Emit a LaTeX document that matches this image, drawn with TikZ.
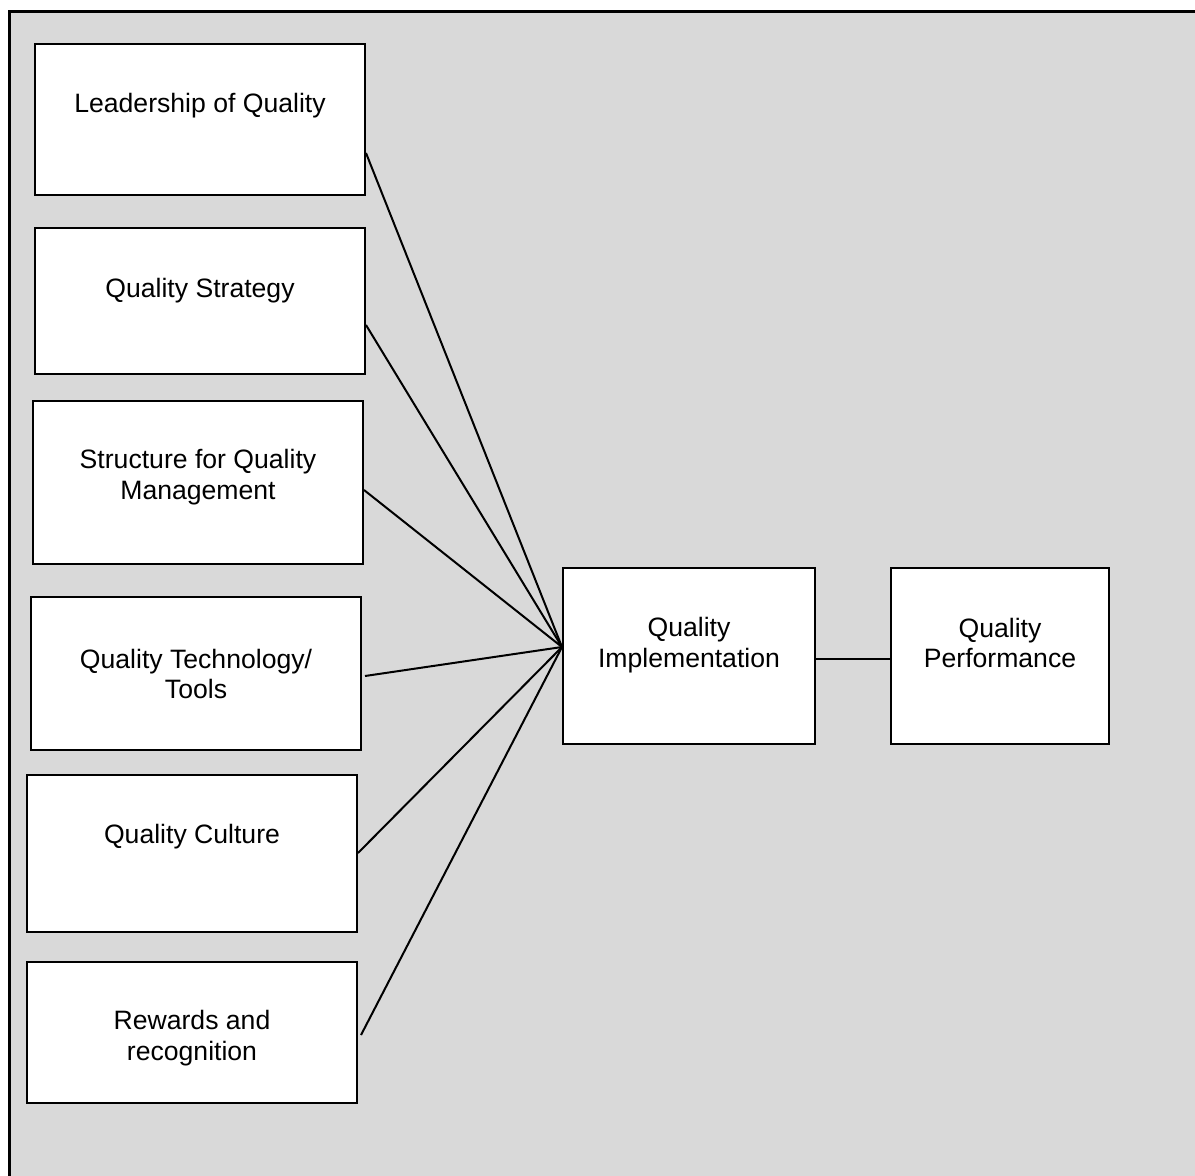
\documentclass[tikz,border=0pt]{standalone}
\usepackage{fontspec}
\setmainfont{Liberation Sans}
\usetikzlibrary{calc}
\definecolor{bggray}{HTML}{D9D9D9}
\begin{document}
\begin{tikzpicture}[x=1pt,y=-1pt,
  boxnode/.style={draw=black, line width=2pt, fill=white, rectangle, inner sep=0pt, anchor=north west},
  lbl/.style={font=\fontsize{26.6}{30.5}\selectfont, align=center, inner sep=0pt, anchor=center},
  conn/.style={draw=black, line width=2pt}]
\useasboundingbox (0,0) rectangle (1195,1176);
\clip (0,0) rectangle (1195,1176);
\fill[white] (0,0) rectangle (1195,1176);
\draw[line width=3pt, fill=bggray] (9,11) rectangle (1200,1185);
% boxes
\node[boxnode, minimum width=330pt, minimum height=151pt] (lead) at (34,43) {};
\node[boxnode, minimum width=330pt, minimum height=146pt] (strat) at (34,227) {};
\node[boxnode, minimum width=330pt, minimum height=163pt] (struct) at (32,400) {};
\node[boxnode, minimum width=330pt, minimum height=153pt] (tech) at (30,596) {};
\node[boxnode, minimum width=330pt, minimum height=157pt] (cult) at (26,774) {};
\node[boxnode, minimum width=330pt, minimum height=141pt] (rew) at (26,961) {};
\node[boxnode, minimum width=252pt, minimum height=176pt] (imp) at (562,567) {};
\node[boxnode, minimum width=218pt, minimum height=176pt] (perf) at (890,567) {};
% labels
\node[lbl] (leadT) at ($(lead.north)+(0,63)$) {Leadership of Quality};
\node[lbl] (stratT) at ($(strat.north)+(0,64)$) {Quality Strategy};
\node[lbl] (structT) at ($(struct.north)+(0,77)$) {Structure for Quality\\Management};
\node[lbl] (techT) at ($(tech.north)+(0,78)$) {Quality Technology/\\Tools};
\node[lbl] (cultT) at ($(cult.north)+(0,63)$) {Quality Culture};
\node[lbl] (rewT) at ($(rew.north)+(0,77)$) {Rewards and\\recognition};
\node[lbl] (impT) at ($(imp.north)+(0,78)$) {Quality\\Implementation};
\node[lbl] (perfT) at ($(perf.north)+(0,76)$) {Quality\\Performance};
% connectors
\coordinate (hub) at ($(imp.north west)+(0,80)$);
\draw[conn] ($(lead.north east)+(0,110)$) -- (hub);
\draw[conn] ($(strat.north east)+(0,98)$) -- (hub);
\draw[conn] ($(struct.north east)+(0,90)$) -- (hub);
\draw[conn] ($(tech.north east)+(3,80)$) -- (hub);
\draw[conn] ($(cult.north east)+(0,79)$) -- (hub);
\draw[conn] ($(rew.north east)+(3,74)$) -- (hub);
\draw[conn] ($(imp.north east)+(0,92)$) -- ($(perf.north west)+(0,92)$);
\end{tikzpicture}
\end{document}
